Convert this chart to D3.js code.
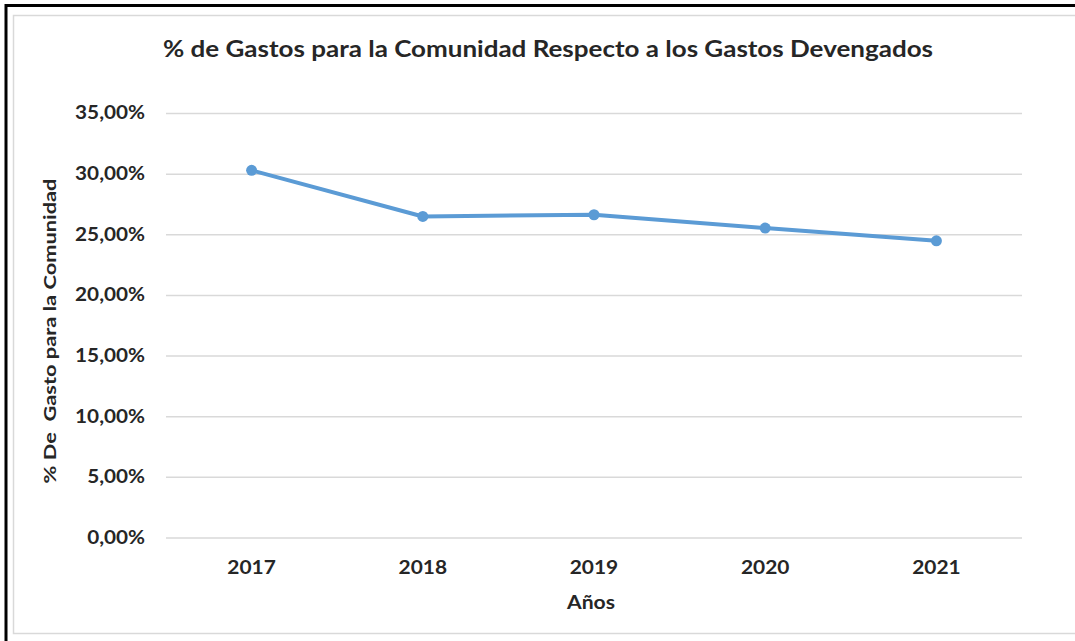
<!DOCTYPE html>
<html>
<head>
<meta charset="utf-8">
<script src="https://cdn.jsdelivr.net/npm/d3@7"></script>
<style>
  html, body { margin: 0; padding: 0; background: #fff; }
  svg { display: block; }
  text { font-family: Lato, "Open Sans", sans-serif; font-weight: bold; fill: #262626; }
</style>
</head>
<body>
<svg id="chart" width="1075" height="641"></svg>
<script>
const years = ["2017", "2018", "2019", "2020", "2021"];
const values = [0.3027, 0.2647, 0.2661, 0.2551, 0.2446];
const yTicks = [0, 0.05, 0.10, 0.15, 0.20, 0.25, 0.30, 0.35];
const title = "% de Gastos para la Comunidad Respecto a los Gastos Devengados";
const xTitle = "Años";
const yTitle = "% De  Gasto para la Comunidad";

const svg = d3.select("#chart");
const W = 1075, H = 641;

function stretch(sel, k) {
  sel.each(function () {
    const w = this.getComputedTextLength();
    d3.select(this).attr("textLength", w * k).attr("lengthAdjust", "spacingAndGlyphs");
  });
}

// outer frames
svg.append("rect").attr("x", 6).attr("y", 5.5).attr("width", W + 10).attr("height", H + 10)
  .attr("fill", "none").attr("stroke", "#000").attr("stroke-width", 3);
svg.append("rect").attr("x", 13.5).attr("y", 15.5).attr("width", W + 10).attr("height", 618)
  .attr("fill", "#fff").attr("stroke", "#d9d9d9").attr("stroke-width", 1.5);

const plot = { left: 166, right: 1022, top: 113, bottom: 537.5 };

const x = d3.scaleBand().domain(years).range([plot.left, plot.right]).padding(0);
const y = d3.scaleLinear().domain([0, 0.35]).range([plot.bottom, plot.top]);

const fmt = v => d3.format(".2f")(v * 100).replace(".", ",") + "%";

// gridlines + y labels
const yAxis = d3.axisLeft(y).tickValues(yTicks).tickSize(-(plot.right - plot.left)).tickFormat(fmt).tickPadding(21);
const gy = svg.append("g").attr("transform", `translate(${plot.left},0)`).call(yAxis);
gy.select(".domain").remove();
gy.selectAll(".tick line").attr("stroke", "#d9d9d9").attr("stroke-width", 1.5);
gy.selectAll(".tick text").attr("font-size", 18.5).attr("font-family", "Lato, sans-serif")
  .attr("font-weight", "bold").attr("fill", "#262626").call(stretch, 1.12);

const xAxis = d3.axisBottom(x).tickSize(0).tickPadding(23);
const gx = svg.append("g").attr("transform", `translate(0,${plot.bottom})`).call(xAxis);
gx.select(".domain").remove();
gx.selectAll(".tick text").attr("font-size", 19).attr("font-family", "Lato, sans-serif")
  .attr("font-weight", "bold").attr("fill", "#262626").call(stretch, 1.1);

const cx = d => x(d) + x.bandwidth() / 2;
const line = d3.line().x((d, i) => cx(years[i])).y(d => y(d));
svg.append("path").datum(values).attr("d", line)
  .attr("fill", "none").attr("stroke", "#5b9bd5").attr("stroke-width", 4).attr("stroke-linejoin", "round");
svg.selectAll("circle.pt").data(values).enter().append("circle")
  .attr("cx", (d, i) => cx(years[i])).attr("cy", d => y(d)).attr("r", 5.5).attr("fill", "#5b9bd5");

svg.append("text").attr("x", 548).attr("y", 57).attr("text-anchor", "middle")
  .attr("font-size", 23).text(title).attr("textLength", 770).attr("lengthAdjust", "spacingAndGlyphs");
svg.append("text").attr("x", 591).attr("y", 609).attr("text-anchor", "middle")
  .attr("font-size", 18).text(xTitle).attr("textLength", 48).attr("lengthAdjust", "spacingAndGlyphs");
svg.append("text").attr("transform", "translate(56,331) rotate(-90)").attr("text-anchor", "middle")
  .attr("font-size", 17.5).style("white-space", "pre").text(yTitle)
  .attr("textLength", 305).attr("lengthAdjust", "spacingAndGlyphs");
</script>
</body>
</html>
